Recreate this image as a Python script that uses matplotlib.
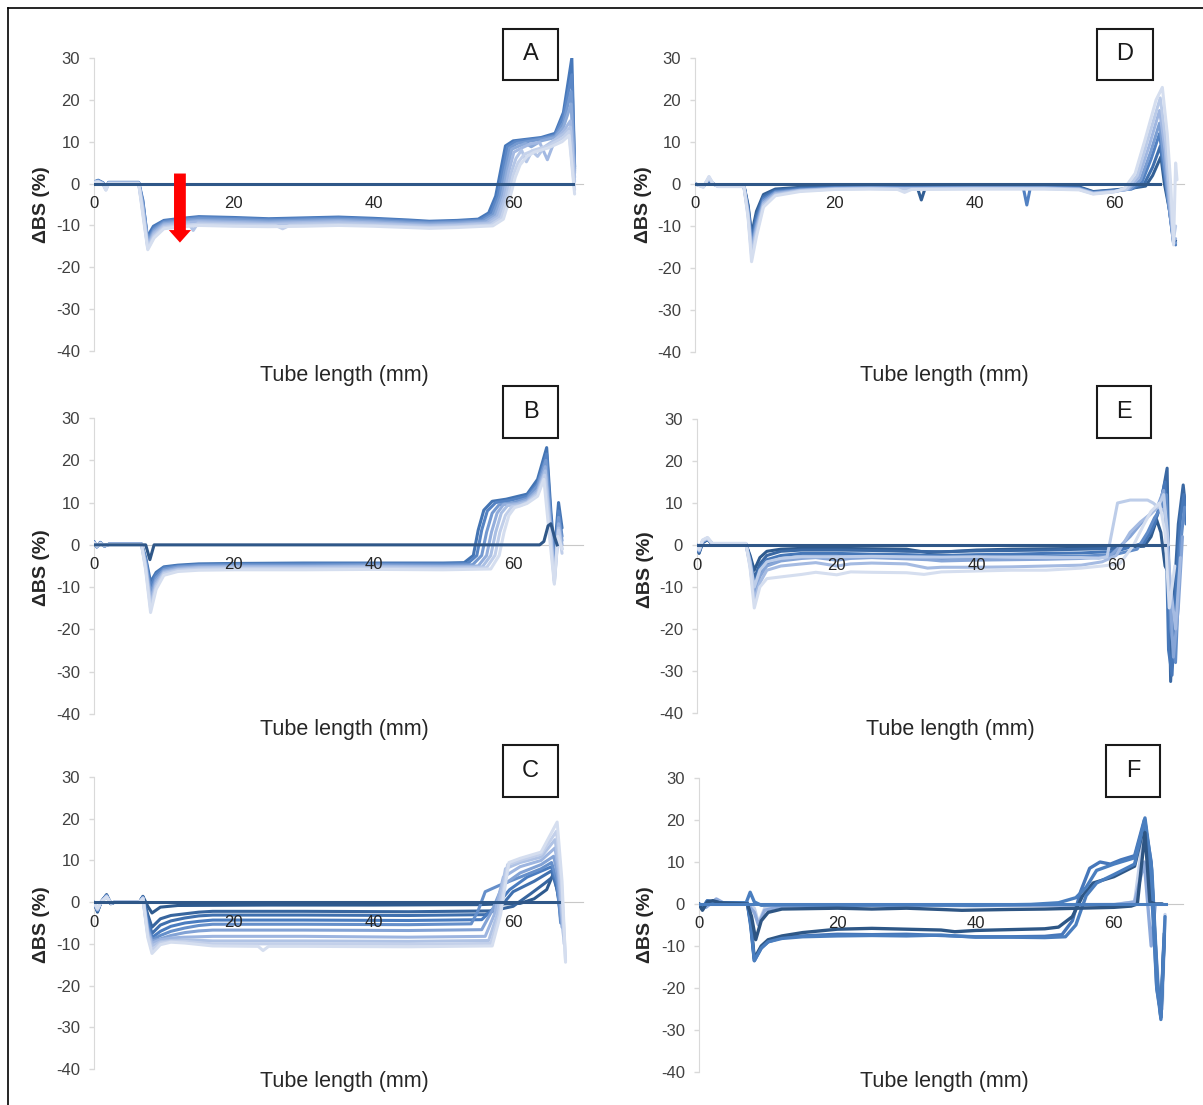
import numpy as np
import matplotlib.pyplot as plt
from matplotlib.colors import LinearSegmentedColormap
from matplotlib.lines import Line2D
from matplotlib.patches import Rectangle

plt.rcParams["font.family"] = ["Liberation Sans", "DejaVu Sans"]
plt.rcParams["axes.unicode_minus"] = False

#%% data: each curve is a list of (tube length mm, delta BS %)
zero_a = [(0, 0), (68.5, 0)]
curves_a = [
    [(0, 0.4), (0.6, 0.8), (1.3, 0.2), (1.7, -0.8), (2.1, 0.3), (6.4, 0.3), (7.0, -4.0), (7.6, -12.8), (8.5, -10.2), (10, -8.8), (12, -8.4), (15, -7.9), (20, -8.1), (25, -8.4), (30, -8.2), (35, -8.0), (40, -8.3), (45, -8.7), (48, -9.0), (52, -8.8),
     (55.0, -8.5), (56.5, -7.0), (57.5, -3.0), (58.2, 3.0), (58.9, 9.0), (60.0, 10.2), (62, 10.6), (64, 11.0), (66, 12.0), (67.2, 17.0), (68.4, 30.0), (68.8, 4.0)],
    [(0, 0.3), (0.6, 0.7), (1.3, 0.1), (1.7, -1.0), (2.1, 0.2), (6.4, 0.2), (7.0, -4.5), (7.7, -13.3), (8.6, -10.6), (10, -9.0), (12, -8.6), (15, -8.1), (20, -8.3), (25, -8.6), (30, -8.4), (35, -8.2), (40, -8.5), (45, -8.9), (48, -9.2), (52, -9.0),
     (55.3, -8.7), (56.8, -7.2), (57.8, -3.0), (58.5, 3.0), (59.2, 8.8), (60.3, 10.0), (62, 10.4), (64, 10.8), (66, 11.6), (67.2, 16.0), (68.4, 26.0), (68.8, 3.5)],
    [(0, 0.3), (0.6, 0.6), (1.3, 0.1), (1.7, -1.1), (2.1, 0.2), (6.4, 0.2), (7.0, -5.0), (7.7, -13.8), (8.6, -11.0), (10, -9.3), (12, -8.9), (15, -8.4), (20, -8.6), (25, -8.9), (30, -8.7), (35, -8.5), (40, -8.8), (45, -9.2), (48, -9.4), (52, -9.2),
     (55.6, -8.9), (57.1, -7.4), (58.1, -3.0), (58.8, 3.0), (59.5, 8.5), (60.6, 9.6), (62, 10.0), (64, 10.6), (66, 11.3), (67.2, 14.5), (68.3, 22.0), (68.8, 3.0)],
    [(0, 0.3), (0.6, 0.6), (1.3, 0.0), (1.7, -1.2), (2.1, 0.2), (6.4, 0.2), (7.0, -5.5), (7.7, -14.3), (8.6, -11.4), (10, -9.6), (12, -9.2), (15, -8.8), (20, -9.0), (25, -9.2), (30, -9.0), (35, -8.8), (40, -9.1), (45, -9.5), (48, -9.7), (52, -9.5),
     (55.9, -9.1), (57.4, -7.6), (58.4, -3.0), (59.1, 3.0), (59.8, 8.2), (60.9, 9.0), (61.8, 9.6), (62.6, 8.8), (64, 10.2), (66, 11.0), (67.2, 13.5), (68.3, 19.0), (68.8, 2.5)],
    [(0, 0.3), (0.6, 0.5), (1.3, 0.0), (1.7, -1.3), (2.1, 0.1), (6.4, 0.1), (7.0, -6.0), (7.7, -14.8), (8.6, -11.8), (10, -9.9), (12, -9.5), (15, -9.1), (20, -9.3), (25, -9.5), (30, -9.3), (35, -9.1), (40, -9.4), (45, -9.8), (48, -10.0), (52, -9.8),
     (56.2, -9.4), (57.7, -7.8), (58.7, -3.0), (59.4, 3.0), (60.1, 7.5), (61.2, 8.5), (62.5, 9.5), (63.8, 9.8), (64.9, 5.7), (66, 10.5), (67.2, 12.5), (68.2, 15.0), (68.8, 1.5)],
    [(0, 0.3), (0.6, 0.5), (1.3, -0.1), (1.7, -1.4), (2.1, 0.1), (6.4, 0.1), (7.0, -6.5), (7.7, -15.2), (8.6, -12.2), (10, -10.2), (12, -9.8), (13.6, -9.6), (14.2, -11.2), (14.9, -9.4), (20, -9.6), (25, -9.8), (30, -9.6), (35, -9.4), (40, -9.7), (45, -10.0), (48, -10.2), (52, -10.0),
     (56.5, -9.6), (58.0, -8.0), (59.0, -3.0), (59.7, 2.5), (60.4, 6.0), (61.2, 8.0), (61.9, 5.2), (62.7, 7.8), (63.5, 6.5), (64.5, 8.8), (66, 10.5), (67.2, 11.8), (68.2, 13.5), (68.8, 0.5)],
    [(0, 0.3), (0.6, 0.4), (1.3, -0.1), (1.7, -1.5), (2.1, 0.0), (6.4, 0.0), (7.0, -7.0), (7.7, -15.5), (8.6, -12.6), (10, -10.5), (12, -10.1), (15, -9.7), (20, -9.9), (26, -10.0), (27, -10.8), (28, -10.0), (35, -9.8), (40, -10.0), (45, -10.3), (48, -10.5), (52, -10.3),
     (56.8, -9.9), (58.3, -8.3), (59.3, -3.0), (60.0, 2.0), (60.7, 5.0), (61.6, 7.0), (63, 8.0), (65, 9.0), (67.2, 11.0), (68.0, 12.5), (68.8, -1.5)],
    [(0, 0.2), (0.6, 0.4), (1.3, -0.2), (1.7, -1.6), (2.1, 0.0), (6.4, 0.0), (7.0, -7.5), (7.7, -15.8), (8.6, -13.0), (10, -10.8), (12, -10.4), (15, -10.0), (20, -10.2), (25, -10.3), (30, -10.2), (35, -10.0), (40, -10.2), (45, -10.5), (48, -10.7), (52, -10.5),
     (57.1, -10.1), (58.6, -8.5), (59.6, -3.0), (60.3, 1.5), (61.0, 4.5), (62.0, 6.5), (63, 7.5), (65, 8.5), (67.0, 10.0), (68.0, 11.5), (68.8, -2.5)],
]

zero_b = [(0, 0), (7.4, 0), (8.0, -3.5), (8.6, 0), (63.8, 0), (64.4, 0.8), (65.0, 4.5), (65.4, 5.0), (65.9, 2.0), (66.3, 0)]
curves_b = [
    [(0, 0.8), (0.4, -0.5), (0.9, 0.6), (1.5, -0.3), (2.2, 0.2), (6.8, 0.2), (7.4, -3.0), (8.1, -8.8), (8.9, -6.5), (10, -5.2), (12, -4.8), (15, -4.5), (20, -4.4), (30, -4.3), (40, -4.3), (50, -4.3),
     (53.0, -4.2), (54.3, -2.5), (55.0, 3.5), (55.8, 8.2), (57.0, 10.3), (59.0, 10.8), (62.0, 12.0), (63.5, 15.5), (64.8, 23.0), (65.4, 8.0), (65.9, -2.0), (66.5, 10.0), (67.0, 4.0)],
    [(0, 0.7), (0.4, -0.5), (0.9, 0.5), (1.5, -0.3), (2.2, 0.2), (6.8, 0.2), (7.4, -3.5), (8.1, -10.0), (8.9, -7.0), (10, -5.4), (12, -5.0), (15, -4.7), (20, -4.6), (30, -4.5), (40, -4.5), (50, -4.5),
     (53.5, -4.4), (54.8, -2.5), (55.5, 3.5), (56.3, 8.0), (57.5, 10.0), (59.5, 10.5), (62.0, 11.5), (63.5, 14.5), (64.8, 21.5), (65.4, 6.0), (65.9, -4.0), (66.5, 8.0), (67.0, 2.0)],
    [(0, 0.6), (0.4, -0.4), (0.9, 0.5), (1.5, -0.3), (2.2, 0.2), (6.8, 0.2), (7.4, -4.0), (8.1, -11.5), (8.9, -7.8), (10, -5.8), (12, -5.2), (15, -4.9), (20, -4.8), (30, -4.8), (40, -4.7), (50, -4.8),
     (54.2, -4.7), (55.5, -2.5), (56.2, 3.0), (57.0, 7.5), (58.0, 9.5), (60, 10.0), (62, 11.0), (63.5, 14.0), (64.7, 20.0), (65.4, 5.0), (65.9, -6.0), (66.5, 6.5), (67.0, 1.0)],
    [(0, 0.6), (0.4, -0.4), (0.9, 0.4), (1.5, -0.2), (2.2, 0.2), (6.8, 0.2), (7.4, -4.5), (8.1, -12.8), (8.9, -8.5), (10, -6.2), (12, -5.5), (15, -5.2), (20, -5.1), (30, -5.1), (40, -5.0), (50, -5.1),
     (55.0, -5.0), (56.2, -2.5), (56.9, 3.0), (57.7, 7.5), (58.6, 9.5), (60.5, 9.8), (62, 10.6), (63.5, 13.0), (64.6, 18.5), (65.3, 5.0), (65.9, -7.5), (66.5, 5.0), (67.0, 0.0)],
    [(0, 0.5), (0.4, -0.3), (0.9, 0.4), (1.5, -0.2), (2.2, 0.1), (6.8, 0.1), (7.4, -5.0), (8.1, -14.0), (8.9, -9.2), (10, -6.5), (12, -5.8), (15, -5.4), (20, -5.3), (30, -5.3), (40, -5.2), (50, -5.3),
     (55.6, -5.2), (56.8, -2.5), (57.5, 3.0), (58.3, 7.5), (59.2, 9.3), (60.5, 9.5), (62, 10.2), (63.5, 12.5), (64.6, 17.5), (65.3, 4.0), (65.9, -8.5), (66.5, 4.0), (67.0, -1.0)],
    [(0, 0.5), (0.4, -0.3), (0.9, 0.3), (1.5, -0.2), (2.2, 0.1), (6.8, 0.1), (7.4, -5.5), (8.1, -15.0), (8.9, -9.8), (10, -6.8), (12, -6.0), (15, -5.7), (20, -5.6), (30, -5.6), (40, -5.5), (50, -5.6),
     (56.2, -5.4), (57.4, -2.5), (58.1, 3.0), (58.9, 7.0), (59.8, 9.0), (61, 9.3), (62, 10.0), (63.5, 12.0), (64.5, 16.5), (65.3, 3.0), (65.9, -9.0), (66.5, 3.5), (67.0, -2.0)],
    [(0, 0.4), (0.4, -0.2), (0.9, 0.3), (1.5, -0.1), (2.2, 0.1), (6.8, 0.1), (7.4, -6.0), (8.1, -16.0), (8.9, -10.5), (10, -7.2), (12, -6.3), (15, -6.0), (20, -5.9), (30, -5.9), (40, -5.8), (50, -5.9),
     (56.8, -5.7), (58.0, -2.5), (58.7, 3.0), (59.4, 7.0), (60.2, 8.8), (61, 9.2), (62, 9.8), (63.5, 11.5), (64.4, 15.5), (65.2, 2.0), (65.9, -9.3), (66.4, 2.0), (67.0, -1.0)],
]

zero_c = [(0, 0), (66.5, 0)]
curves_c = [
    [(0, 0), (0.5, -2.4), (1.0, 0), (1.8, 1.8), (2.4, -0.4), (3.0, 0), (6.5, 0), (7.0, 1.4), (7.7, -1.0), (8.3, -2.6), (9.5, -1.2), (12, -0.8), (25, -0.7), (40, -0.7), (55, -0.6), (61, -0.3), (63, 0.8), (64.8, 3.0), (65.8, 7.0), (66.4, 2.0), (66.9, -1.0)],
    [(0, 0), (0.5, -2.2), (1.0, 0), (1.8, 1.7), (2.4, -0.3), (3.0, 0), (6.5, 0), (7.0, 1.3), (7.7, -3.0), (8.3, -6.0), (9.5, -4.0), (11, -3.2), (13, -2.8), (15, -2.4), (17, -2.2), (30, -2.2), (45, -2.3), (57, -2.1), (60, -1.0), (62.5, 2.0), (64.5, 4.5), (66.0, 6.5), (66.6, 1.0), (67.0, -2.0)],
    [(0, 0), (0.5, -2.0), (1.0, 0), (1.8, 1.6), (2.4, -0.3), (3.0, 0), (6.5, 0), (7.0, 1.2), (7.7, -4.0), (8.3, -7.5), (9.5, -5.5), (11, -4.5), (13, -3.8), (15, -3.3), (17, -3.1), (30, -3.1), (45, -3.2), (56, -3.0), (58, -1.5), (60, 2.5), (63, 5.0), (65.5, 7.5), (66.3, 3.0), (66.8, -3.0)],
    [(0, 0), (0.5, -2.0), (1.0, 0), (1.8, 1.6), (2.4, -0.3), (3.0, 0), (6.5, 0), (7.0, 1.2), (7.7, -5.0), (8.3, -8.5), (9.5, -7.0), (11, -5.8), (13, -5.0), (15, -4.6), (17, -4.3), (30, -4.3), (45, -4.4), (55.5, -4.2), (57.5, -1.0), (59.5, 3.0), (62, 6.0), (65.5, 8.5), (66.3, 4.0), (66.8, -4.0)],
    [(0, 0), (0.5, -1.9), (1.0, 0), (1.8, 1.5), (2.4, -0.3), (3.0, 0), (6.5, 0), (7.0, 1.1), (7.7, -6.0), (8.3, -9.0), (9.5, -8.0), (11, -7.0), (13, -6.2), (15, -5.6), (17, -5.3), (30, -5.3), (45, -5.4), (54.0, -5.2), (55.0, -2.0), (56.0, 2.5), (58, 4.0), (61, 6.0), (64, 8.0), (65.5, 9.5), (66.3, 5.0), (66.8, -5.0)],
    [(0, 0), (0.5, -1.8), (1.0, 0), (1.8, 1.5), (2.4, -0.2), (3.0, 0), (6.5, 0), (7.0, 1.0), (7.7, -6.5), (8.3, -9.3), (9.5, -8.8), (11, -8.0), (13, -7.3), (15, -6.9), (17, -6.7), (30, -6.7), (45, -6.8), (55.5, -6.6), (57.0, -2.0), (58.5, 4.0), (61, 7.0), (64, 9.0), (65.8, 11.0), (66.4, 6.0), (67.0, -6.0)],
    [(0, 0), (0.5, -1.8), (1.0, 0), (1.8, 1.4), (2.4, -0.2), (3.0, 0), (6.5, 0), (7.0, 1.0), (7.7, -7.0), (8.3, -9.8), (9.5, -9.0), (11, -8.6), (13, -8.4), (15, -8.3), (17, -8.2), (30, -8.2), (45, -8.4), (56.0, -8.2), (57.3, -3.0), (58.6, 6.0), (61, 8.5), (64, 10.0), (66.0, 13.0), (66.5, 7.0), (67.2, -8.0)],
    [(0, 0), (0.5, -1.7), (1.0, 0), (1.8, 1.4), (2.4, -0.2), (3.0, 0), (6.5, 0), (7.0, 1.0), (7.7, -7.5), (8.3, -10.5), (9.5, -9.5), (11, -9.2), (13, -9.0), (17, -9.3), (30, -9.3), (45, -9.4), (56.5, -9.2), (57.7, -3.0), (58.9, 8.0), (61, 9.5), (64, 10.8), (66.0, 15.0), (66.6, 8.0), (67.3, -10.0)],
    [(0, 0), (0.5, -1.6), (1.0, 0), (1.8, 1.3), (2.4, -0.2), (3.0, 0), (6.5, 0), (7.0, 0.9), (7.7, -8.0), (8.3, -11.5), (9.5, -9.8), (11, -9.4), (13, -9.4), (17, -10.0), (30, -10.0), (45, -10.1), (56.8, -9.9), (58.0, -3.0), (59.2, 9.0), (61, 10.0), (64, 11.5), (66.2, 17.0), (66.9, 5.0), (67.5, -14.0)],
    [(0, 0), (0.5, -1.5), (1.0, 0), (1.8, 1.2), (2.4, -0.2), (3.0, 0), (6.5, 0), (7.0, 0.8), (7.7, -8.5), (8.3, -12.3), (9.5, -10.2), (11, -9.6), (13, -9.8), (17, -10.5), (23.5, -10.6), (24.2, -11.6), (25, -10.6), (30, -10.6), (45, -10.7), (57.0, -10.5), (58.2, -3.0), (59.4, 9.5), (61, 10.5), (64, 12.0), (66.3, 19.2), (67.0, 5.0), (67.5, -14.4)],
]

zero_d = [(0, 0), (66.5, 0)]
curves_d = [
    [(0, 0), (1.2, -0.4), (2.0, 0.6), (2.6, 0.0), (3.3, -0.3), (7.0, -0.3), (7.6, -5.0), (8.1, -12.0), (8.8, -6.5), (9.8, -2.5), (11.5, -1.2), (15, -0.8), (20, -0.7), (25, -0.6), (31.8, -0.7), (32.4, -3.8), (33.0, -0.7), (40, -0.6), (47, -0.5), (55, -0.7), (57, -1.8), (60, -1.4), (62.5, -1.0), (64.5, -0.5), (65.5, 2.0), (66.7, 6.5), (67.2, 0.0), (67.9, -6.0), (68.5, -13.0), (68.8, -13.5)],
    [(0, 0), (1.2, -0.5), (2.0, 0.8), (2.6, 0.0), (3.3, -0.4), (7.0, -0.4), (7.6, -5.5), (8.1, -13.0), (8.8, -7.5), (9.8, -3.0), (11.5, -1.5), (15, -1.0), (20, -0.8), (25, -0.7), (30, -0.8), (40, -0.7), (50, -0.6), (55, -0.9), (57, -1.9), (60, -1.5), (62.5, -1.1), (64.3, 0.0), (65.5, 4.0), (66.6, 9.0), (67.2, 2.0), (67.9, -6.0), (68.5, -13.5), (68.8, -14.0)],
    [(0, 0), (1.2, -0.5), (2.0, 1.0), (2.6, 0.0), (3.3, -0.4), (7.0, -0.4), (7.6, -6.0), (8.1, -14.0), (8.8, -8.5), (9.8, -3.5), (11.5, -1.8), (15, -1.2), (20, -0.9), (25, -0.8), (30, -0.9), (40, -0.8), (47.0, -0.9), (47.5, -5.0), (48.0, -0.9), (55, -1.0), (57, -2.0), (60, -1.6), (62.5, -1.2), (64.0, 0.5), (65.3, 6.0), (66.5, 12.0), (67.1, 4.0), (67.9, -6.0), (68.5, -14.0), (68.8, -14.5)],
    [(0, 0), (1.2, -0.6), (2.0, 1.2), (2.6, 0.0), (3.3, -0.5), (7.0, -0.5), (7.6, -6.5), (8.1, -15.0), (8.8, -9.5), (9.8, -4.0), (11.5, -2.0), (15, -1.4), (20, -1.0), (25, -0.9), (30, -1.0), (40, -0.9), (50, -0.9), (55, -1.1), (57, -2.1), (60, -1.7), (62.3, -1.2), (63.8, 1.0), (65.2, 7.5), (66.5, 14.5), (67.2, 5.0), (67.9, -6.0), (68.5, -14.0), (68.8, -14.0)],
    [(0, 0), (1.2, -0.6), (2.0, 1.4), (2.6, 0.0), (3.3, -0.5), (7.0, -0.5), (7.6, -7.0), (8.1, -16.0), (8.8, -10.5), (9.8, -4.5), (11.5, -2.3), (15, -1.5), (20, -1.1), (25, -1.0), (30, -1.1), (40, -1.0), (50, -1.0), (55, -1.2), (57, -2.2), (60, -1.8), (62.0, -1.2), (63.5, 1.5), (65.0, 9.0), (66.5, 17.5), (67.3, 8.0), (67.9, -4.0), (68.5, -13.5), (68.8, -13.0)],
    [(0, 0), (1.2, -0.7), (2.0, 1.6), (2.6, 0.0), (3.3, -0.6), (7.0, -0.6), (7.6, -7.5), (8.1, -17.0), (8.8, -11.5), (9.8, -5.0), (11.5, -2.6), (15, -1.6), (20, -1.2), (25, -1.1), (30, -1.2), (40, -1.1), (50, -1.1), (55, -1.3), (57, -2.3), (60, -1.8), (61.8, -1.2), (63.3, 2.0), (64.8, 10.5), (66.6, 20.5), (67.4, 10.0), (68.0, -3.0), (68.5, -13.0), (68.8, -10.0)],
    [(0, 0), (1.2, -0.8), (2.0, 1.8), (2.6, 0.0), (3.3, -0.6), (7.0, -0.6), (7.6, -8.0), (8.1, -18.5), (8.8, -12.5), (9.8, -5.5), (11.5, -2.8), (15, -1.8), (20, -1.3), (25, -1.2), (29, -1.3), (30, -2.0), (31, -1.3), (40, -1.2), (50, -1.2), (55, -1.4), (57, -2.4), (60, -1.9), (61.5, -1.0), (63.0, 2.5), (64.5, 11.0), (66.0, 20.0), (66.9, 23.0), (67.6, 12.0), (68.1, 0.0), (68.5, -14.5), (68.8, 5.0), (69.0, 1.0)],
]

zero_e = [(0, 0), (67.0, 0)]
curves_e = [
    [(0, 0), (0.3, -2.0), (0.8, 0.5), (1.5, 1.3), (2.2, 0.2), (7.0, 0.2), (7.6, -2.5), (8.2, -6.0), (9.0, -3.0), (10, -1.5), (12, -1.0), (15, -0.8), (20, -0.8), (25, -0.9), (30, -1.0), (33, -1.8), (36, -1.6), (40, -1.2), (45, -1.0), (50, -0.9), (55, -0.8), (60, -0.6), (64.0, -0.3), (65.0, 2.0), (65.8, 6.0), (66.4, 3.0), (67.0, -5.0), (67.3, -6.0)],
    [(0, 0), (0.3, -1.8), (0.8, 0.6), (1.5, 1.5), (2.2, 0.2), (7.0, 0.2), (7.6, -3.0), (8.2, -8.0), (9.0, -4.5), (10, -2.5), (12, -1.5), (15, -1.2), (20, -1.2), (25, -1.3), (30, -1.5), (35, -1.6), (40, -1.4), (45, -1.3), (50, -1.2), (55, -1.0), (60, -0.8), (63.5, 0.0), (65.0, 3.0), (66.3, 9.0), (67.3, 18.3), (67.8, -32.5), (68.3, -12.0), (68.9, 5.0), (69.6, 14.3), (70.0, 8.0)],
    [(0, 0), (0.3, -1.6), (0.8, 0.7), (1.5, 1.4), (2.2, 0.2), (7.0, 0.2), (7.6, -3.5), (8.2, -9.5), (9.0, -5.5), (10, -3.5), (12, -2.5), (15, -2.0), (20, -2.0), (25, -2.2), (30, -2.3), (35, -2.5), (40, -2.3), (45, -2.2), (50, -2.0), (55, -1.9), (60, -1.5), (64.0, 0.5), (65.5, 5.0), (66.3, 10.0), (67.0, 15.0), (67.5, -25.0), (68.0, -31.0), (68.6, -10.0), (69.2, 6.0), (69.7, 12.0), (70.0, 5.0)],
    [(0, 0), (0.3, -1.5), (0.8, 0.8), (1.5, 1.6), (2.2, 0.3), (7.0, 0.3), (7.6, -4.0), (8.2, -11.0), (9.0, -6.5), (10, -4.5), (12, -3.3), (15, -2.8), (20, -2.7), (25, -2.9), (30, -3.0), (35, -3.2), (40, -3.0), (45, -2.9), (50, -2.8), (55, -2.7), (60, -2.2), (63.0, -1.0), (64.5, 3.0), (65.5, 6.5), (66.5, 9.0), (67.2, 12.0), (67.8, -20.0), (68.5, -28.0), (69.2, 0.0), (69.8, 9.0)],
    [(0, 0), (0.3, -1.4), (0.8, 0.9), (1.5, 1.5), (2.2, 0.3), (7.0, 0.3), (7.6, -4.5), (8.2, -12.0), (9.0, -7.5), (10, -5.0), (12, -3.8), (15, -3.2), (17, -3.0), (20, -3.6), (22, -3.2), (25, -3.0), (30, -3.3), (33, -3.5), (35, -3.8), (40, -3.6), (45, -3.5), (50, -3.4), (55, -3.2), (59, -2.8), (62.0, 2.0), (63.5, 5.0), (65.0, 7.5), (66.0, 9.5), (66.8, 13.0), (67.5, -5.0), (68.2, -26.7), (68.9, -15.0), (69.5, 2.0)],
    [(0, 0), (0.3, -1.3), (0.8, 1.0), (1.5, 1.6), (2.2, 0.3), (7.0, 0.3), (7.6, -5.0), (8.2, -13.0), (9.0, -9.0), (10, -6.0), (12, -5.0), (15, -4.5), (17, -4.2), (20, -5.0), (22, -4.5), (25, -4.3), (30, -4.5), (33, -5.5), (35, -5.3), (40, -5.3), (45, -5.2), (50, -5.0), (55, -4.8), (58, -4.0), (60.0, -2.5), (62.0, 3.0), (63.5, 5.5), (65.0, 7.5), (66.0, 9.0), (67.0, 8.0), (67.8, -10.0), (68.5, -20.0), (69.2, -3.0)],
    [(0, 0), (0.3, -1.2), (0.8, 1.1), (1.5, 1.7), (2.2, 0.3), (7.0, 0.3), (7.6, -4.0), (8.2, -10.0), (9.0, -6.0), (10, -4.0), (12, -3.2), (15, -2.8), (20, -2.8), (25, -2.7), (30, -2.8), (35, -2.9), (40, -2.8), (45, -2.9), (50, -3.0), (55, -3.0), (57.5, -3.2), (58.7, -2.8), (59.5, 4.0), (60.2, 10.0), (62, 10.7), (64.5, 10.7), (65.3, 10.0), (66.0, 9.0), (66.8, 12.0), (67.5, 0.0)],
    [(0, 0), (0.3, -1.1), (0.8, 1.2), (1.5, 1.8), (2.2, 0.4), (7.0, 0.4), (7.6, -5.5), (8.2, -15.0), (9.0, -10.0), (10, -8.0), (12, -7.6), (15, -7.0), (17, -6.5), (20, -7.1), (22, -6.4), (25, -6.5), (30, -6.6), (32.5, -7.0), (35, -6.4), (40, -6.2), (45, -6.0), (50, -6.0), (55, -5.5), (58, -5.0), (60.5, -4.5), (62.5, 0.0), (64.0, 5.0), (65.0, 8.0), (66.2, 10.0), (67.0, 3.0), (67.6, -15.0), (68.4, -5.0)],
]

zero_f = [(0, 0), (67.5, 0)]
curves_f = [
    [(0, 0), (0.5, -1.5), (1.2, 0.5), (2.0, 0.8), (3.0, 0.3), (7.0, 0.0), (7.6, -3.0), (8.2, -8.5), (9.0, -4.0), (10, -2.0), (12, -1.2), (20, -1.0), (25, -1.2), (30, -1.0), (35, -1.3), (38, -1.5), (45, -1.3), (50, -1.2), (55, -1.0), (60, -0.8), (62.5, -0.5), (63.4, 0.0), (64.5, 17.0), (65.2, 0.5), (66.0, 0.0), (67.0, 0.0)],
    [(0, 0), (0.5, -1.0), (1.2, 0.8), (2.0, 0.5), (3.0, 0.3), (6.8, 0.2), (7.4, 2.8), (8.0, 0.5), (9.0, -0.3), (12, -0.2), (20, -0.3), (30, -0.2), (40, -0.3), (48, -0.1), (52, 0.3), (54.5, 1.5), (56.0, 4.0), (57.5, 8.0), (60, 9.5), (63.0, 11.0), (64.5, 20.0), (65.4, 5.0), (66.2, -20.0), (66.8, -27.0), (67.4, -3.0)],
    [(0, 0), (0.5, -1.2), (1.2, 0.6), (2.0, 0.4), (3.0, 0.3), (7.0, 0.2), (7.5, -5.0), (8.0, -13.5), (9.0, -10.5), (10, -9.0), (12, -8.2), (15, -7.8), (20, -7.6), (25, -7.5), (30, -7.6), (35, -7.4), (40, -7.9), (45, -7.9), (50, -8.0), (53.0, -7.8), (54.5, -5.0), (56.0, 2.0), (57.5, 5.0), (60, 7.0), (63.0, 9.5), (64.5, 20.5), (65.5, 8.0), (66.3, -18.0), (66.8, -27.5), (67.3, -8.0)],
    [(0, 0), (0.5, -1.0), (1.2, 0.7), (2.0, 0.5), (3.0, 0.3), (7.0, 0.2), (7.5, -4.5), (8.0, -13.0), (9.0, -10.0), (10, -8.5), (12, -7.6), (15, -6.8), (20, -6.0), (25, -5.8), (30, -6.0), (35, -6.2), (37, -6.6), (40, -6.3), (45, -6.1), (50, -5.9), (52.0, -5.5), (54.0, -3.0), (55.5, 2.0), (57.0, 5.0), (60, 6.5), (63.0, 9.0), (64.5, 19.5), (65.5, 6.0), (66.3, -19.0), (66.8, -27.0), (67.3, -7.0)],
    [(0, 0), (0.5, -1.3), (1.2, 0.5), (2.0, 0.6), (3.0, 0.3), (7.0, 0.2), (7.5, -5.5), (8.0, -13.5), (9.0, -10.5), (10, -9.0), (12, -8.0), (15, -7.6), (20, -7.2), (25, -7.3), (30, -7.2), (35, -7.5), (40, -7.8), (45, -7.8), (50, -7.7), (52.5, -7.3), (54.0, -4.0), (55.2, 3.0), (56.5, 8.5), (58.0, 10.0), (59.5, 9.5), (61, 10.5), (63.0, 11.5), (64.4, 20.0), (65.4, 10.0), (66.2, -20.0), (66.8, -26.0), (67.2, -10.0)],
    [(0, 0), (1, -0.8), (2.5, 1.2), (3.5, 0.3), (7.0, 0.0), (8.0, -2.0), (8.6, -5.0), (9.5, -1.5), (12, -0.5), (20, -0.4), (30, -0.3), (40, -0.4), (50, -0.3), (60, -0.2), (63.0, 0.5), (64.4, 10.0), (65.4, -10.0), (66.0, 0.0), (67.0, 0.0)],
    [(0, 0), (1, -0.6), (2.5, 1.0), (3.5, 0.2), (7.0, 0.0), (8.0, -1.0), (8.6, -4.5), (9.5, -1.0), (12, -0.3), (20, -0.2), (30, -0.2), (40, -0.3), (50, -0.2), (60, -0.1), (63.0, 0.5), (64.0, 13.0), (64.6, 18.0), (65.3, 5.0), (66.5, -20.0), (67.0, -25.0), (67.4, -2.5)],
]

y_ticks = [-40, -30, -20, -10, 0, 10, 20, 30]
x_ticks = [0, 20, 40, 60]
x_label = "Tube length (mm)"
y_label = "\u0394BS (%)"

#%% layout (pixel positions in the 1203 x 1105 picture)
W, H = 1203, 1105
cmap = LinearSegmentedColormap.from_list("bs", ["#2E5A8E", "#4A7CBF", "#9DB5E0", "#D5DEEF"])
colors_f = ["#2E5583", "#4A7EBF", "#4A7EBF", "#2E5786", "#4677BA", "#8EAADB", "#C5D2EA"]

panels = [
    # name, curves, zero, colours, (left, top, right, bottom), box, ylabel xy, xlabel xy, zero colour, light on top
    ("A", curves_a, zero_a, cmap(np.linspace(0.3, 1.0, 8)), (94, 58, 583, 351), (503, 29, 558, 80), (42, 205), (344, 375), "#2F5788", True),
    ("D", curves_d, zero_d, cmap(np.linspace(0.05, 1.0, 7)), (695, 58, 1184, 352), (1097, 29, 1153, 80), (643, 205), (944, 375), "#2F5788", True),
    ("B", curves_b, zero_b, cmap(np.linspace(0.25, 1.0, 7)), (94, 418, 583, 714), (503, 386, 558, 438), (42, 568), (344, 729), "#2F5788", True),
    ("E", curves_e, zero_e, cmap(np.linspace(0.0, 1.0, 8)), (697, 419, 1186, 713), (1097, 386, 1151, 438), (645, 570), (950, 729), "#2F5788", True),
    ("C", curves_c, zero_c, cmap(np.linspace(0.0, 1.0, 10)), (94, 777, 583, 1069), (503, 745, 558, 797), (42, 925), (344, 1082), "#2F5788", True),
    ("F", curves_f, zero_f, colors_f, (699, 778, 1183, 1072), (1106, 745, 1160, 797), (646, 925), (944, 1082), "#4A7EBF", False),
]

fig = plt.figure(figsize=(W / 100, H / 100), dpi=100)
fx = lambda px: px / W
fy = lambda py: 1 - py / H

for name, curves, zero, cols, (l, t, r, b), box, ylab, xlab, zc, light_top in panels:
    ax = fig.add_axes([fx(l), fy(b), (r - l) / W, (b - t) / H])
    ax.patch.set_alpha(0)
    ax.set_xlim(0, 70)
    ax.set_ylim(-40, 30)
    for s in ("top", "right"):
        ax.spines[s].set_visible(False)
    ax.spines["left"].set_color("#D9D9D9")
    ax.spines["bottom"].set_position(("data", 0))
    ax.spines["bottom"].set_color("#C8C8C8")
    for s in ("left", "bottom"):
        ax.spines[s].set_zorder(1)
    ax.set_yticks(y_ticks)
    ax.set_xticks(x_ticks)
    ax.tick_params(axis="y", direction="out", length=3.5, width=1, color="#D9D9D9",
                   labelsize=12, labelcolor="#404040", pad=6.5)
    ax.tick_params(axis="x", length=0, labelsize=12, labelcolor="#262626", pad=9)
    ax.xaxis.set_zorder(5)

    pairs = list(zip(curves, cols))
    if not light_top:
        pairs = pairs[::-1]
    for pts, c in pairs:
        xs, ys = zip(*pts)
        ax.plot(xs, ys, color=c, lw=2.4 if name == "F" else 2.2, zorder=2,
                solid_joinstyle="round", solid_capstyle="round")
    zx, zy = zip(*zero)
    ax.plot(zx, zy, color=zc, lw=2.2, zorder=3)

    if name == "A":
        ax.annotate("", xy=(12.3, -14.1), xytext=(12.3, 2.4), zorder=6,
                    arrowprops=dict(arrowstyle="simple,head_length=0.9,head_width=1.6,tail_width=0.85",
                                    color="#FF0000", mutation_scale=10, shrinkA=0, shrinkB=0, lw=0))

    x0, y0, x1, y1 = box
    fig.add_artist(Rectangle((fx(x0), fy(y1)), (x1 - x0) / W, (y1 - y0) / H, transform=fig.transFigure,
                             fill=False, ec="#1A1A1A", lw=1.5))
    fig.text(fx((x0 + x1) / 2), fy((y0 + y1) / 2), name, ha="center", va="center", fontsize=17, color="#1A1A1A")
    fig.text(fx(ylab[0]), fy(ylab[1]), y_label, rotation=90, ha="center", va="center",
             fontsize=14, fontweight="bold", color="#262626")
    fig.text(fx(xlab[0]), fy(xlab[1]), x_label, ha="center", va="center", fontsize=15.5, color="#262626")

# outer frame (only the left and top edges fall inside the picture)
fig.add_artist(Line2D([fx(8), fx(8)], [fy(8), 0], transform=fig.transFigure, color="black", lw=1.2))
fig.add_artist(Line2D([fx(8), 1], [fy(8), fy(8)], transform=fig.transFigure, color="black", lw=1.2))

fig.savefig("out.png", dpi=100, facecolor="w")
